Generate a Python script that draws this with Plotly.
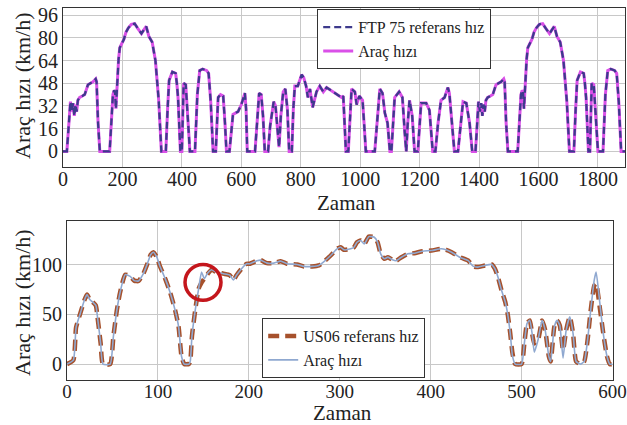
import plotly.graph_objects as go

# ---------------- FTP-75 (top) ----------------
ftp_time = [0, 13, 25, 30, 34, 38, 42, 46, 50, 56, 65, 73, 84, 95, 101, 110, 113, 118, 124,
            157, 163, 168, 172, 175, 178, 181, 187, 191, 197, 205, 212, 220, 230, 241, 252, 264,
            272, 280, 289, 300, 311, 322, 331, 346, 352, 357, 368, 379, 383, 387, 395, 400, 406,
            413, 418, 427, 444, 452, 460, 470, 483, 490, 497, 505, 514, 522, 530, 539, 545, 550,
            560, 566, 572, 589, 600, 612, 616, 620, 646, 653, 660, 667, 673, 679, 690, 697, 709,
            715, 721, 727, 733, 741, 748, 755, 761, 770, 775, 780, 790, 797, 803, 810, 818, 824,
            831, 840, 853, 864, 876, 887, 909, 926, 937, 943, 947, 952, 960, 965, 971, 982, 988,
            997, 1008, 1013, 1019, 1049, 1058, 1066, 1075, 1083, 1092, 1100, 1105, 1110, 1116,
            1131, 1142, 1150, 1155, 1160, 1166, 1175, 1183, 1194, 1200, 1205, 1222, 1233, 1244,
            1253, 1262, 1272, 1284, 1295, 1300, 1312, 1317, 1329, 1338, 1346, 1357, 1368, 1377,
            1388, 1398, 1403, 1407, 1411, 1415, 1419, 1423, 1429, 1438, 1446, 1457, 1468, 1474,
            1483, 1486, 1491, 1497, 1530, 1536, 1541, 1545, 1548, 1551, 1554, 1560, 1564, 1570,
            1578, 1585, 1593, 1603, 1614, 1625, 1637, 1645, 1653, 1662, 1673, 1684, 1695, 1704,
            1719, 1725, 1730, 1741, 1752, 1756, 1760, 1768, 1773, 1779, 1786, 1791, 1800, 1817,
            1825, 1833, 1843, 1856, 1863, 1870, 1878, 1891]
ftp_ref = [0, 0, 35, 28, 34, 25, 33, 28, 36, 38, 39, 40, 47, 48, 49, 51, 49, 20, 0,
           0, 25, 40, 43, 42, 30, 45, 65, 73, 76, 79, 84, 87, 89.5, 90, 86.5, 83,
           85.6, 88, 81, 77, 64, 36, 0, 0, 30, 50, 56, 55, 48, 38, 0, 0, 48,
           47, 30, 0, 0, 40, 57, 58, 57, 55, 35, 0, 0, 38, 40, 39, 20, 0,
           0, 16, 26, 28, 33, 41, 30, 0, 0, 20, 41, 40, 25, 0, 0, 18, 35,
           32, 15, 3, 25, 42, 44, 30, 0, 0, 30, 46, 46, 51, 54, 52, 46, 38,
           44, 31, 42, 46, 42, 45, 42, 39.5, 38, 39, 25, 0, 0, 25, 44, 42, 33,
           39, 36, 20, 0, 0, 25, 44, 41, 27, 20, 0, 0, 20, 38,
           42, 38, 13, 0, 20, 36, 25, 0, 0, 20, 34, 34, 29, 0,
           0, 20, 36, 38, 45, 41, 12, 0, 0, 20, 35, 34, 20, 0,
           0, 35, 28, 34, 25, 33, 28, 36, 38, 39, 40, 47, 48, 49,
           51, 49, 20, 0, 0, 25, 40, 43, 42, 30, 45, 65, 73, 76,
           79, 84, 87, 89.5, 90, 86.5, 83, 85.6, 88, 81, 77, 64, 36, 0,
           0, 30, 50, 56, 55, 48, 38, 0, 0, 48, 47, 30, 0, 0,
           40, 57, 58, 57, 55, 35, 0, 0]
ftp_vehicle = list(ftp_ref)

# ---------------- US06 (bottom) ----------------
us06_time = [0, 7, 10, 14.6, 19, 22, 25, 28, 31.7, 33.5, 37, 39.5, 47.5, 51, 54.8, 58.5, 64, 69.5,
             73.9, 78.6, 84, 88.4, 92, 95, 98.8, 102, 108, 113.6, 119, 122.7, 126, 129, 134, 135.6,
             137.4, 141, 144.8, 148, 151, 155, 159, 164, 172, 179, 183, 186.6, 192, 197.6, 201, 209,
             213, 220, 227.5, 235, 242, 253, 260.6, 269.7, 277, 282, 290, 297, 301, 304.6, 312,
             315.6, 319, 323, 327, 332, 338, 341.6, 345, 349, 353, 358, 362, 367, 375, 382, 391,
             401, 411.6, 417, 423, 432, 441, 447, 452, 459.6, 467, 470.6, 474, 478, 482, 484.6,
             487.5, 490, 493, 500, 503, 506, 509, 511.6, 514, 518, 522.6, 526, 530, 532, 536, 539,
             542, 545.6, 549, 553, 556.6, 560, 565, 569, 572.6, 576, 580, 582, 586, 590, 594, 597, 600]
us06_ref = [0, 4, 37, 51, 64, 70, 65, 62.6, 59, 47.6, 21, 0, 0, 27.6, 54, 72.6, 90, 88.3,
            84, 83.6, 91, 101, 110, 112.6, 107.6, 99, 86, 71.6, 54, 38, 7.6, 0, 0, 3,
            27.6, 54, 76, 82, 86, 91, 95, 92.6, 91, 89.6, 84.6, 89.6, 96, 101, 101, 104,
            104.6, 101.6, 101.6, 103.6, 101, 100.3, 98.3, 98.3, 99.3, 102.6, 109.3, 116, 117.6, 115, 116,
            117.6, 122.6, 124.3, 121, 128.3, 127.6, 122.6, 111, 106, 107.6, 105, 104, 107, 111, 111.6, 113.6,
            114.3, 116, 115, 112.6, 107.6, 104.3, 98.3, 97.6, 99.3, 100.3, 96, 87.6, 74, 62.6, 51,
            31, 11, 0, 0, 20.6, 41, 44, 30.6, 20.6, 24, 44, 34, 7.6, 2.6, 37.6, 44,
            39, 14, 34, 47.6, 31, 2.6, 0, 3, 24.3, 54, 79, 81, 57, 30, 7.6, 0, 0]
us06_vehicle = [0, 4, 37, 51, 64, 70, 65, 62.6, 59, 47.6, 21, 0, 0, 27.6, 54, 72.6, 90, 88.3,
                84, 83.6, 91, 101, 110, 112.6, 107.6, 99, 86, 71.6, 54, 38, 7.6, 0, 0, 3,
                27.6, 54, 76, 92.6, 86, 92, 95, 92.6, 91, 89.6, 84.6, 89.6, 96, 101, 101, 104,
                104.6, 101.6, 101.6, 103.6, 101, 100.3, 98.3, 98.3, 99.3, 102.6, 109.3, 116, 117.6, 115, 116,
                117.6, 122.6, 124.3, 121, 128.3, 127.6, 122.6, 111, 106, 107.6, 105, 104, 107, 111, 111.6, 113.6,
                114.3, 116, 115, 112.6, 107.6, 104.3, 98.3, 97.6, 99.3, 100.3, 96, 87.6, 74, 62.6, 51,
                31, 8, 0, 0, 20.6, 41, 44, 30.6, 12, 24, 44, 34, 7.6, 2.6, 37.6, 44,
                39, 6, 34, 47.6, 31, 2.6, 0, 3, 24.3, 54, 85, 92.6, 62, 30, 7.6, 0, 0]

# highlighted region (red circle) on the US06 chart
circle_t, circle_v, circle_rt, circle_rv = 149.6, 82.3, 19.8, 18

FONT = "Liberation Serif"

fig = go.Figure()

fig.add_trace(go.Scatter(x=ftp_time, y=ftp_vehicle, mode="lines", name="Araç hızı",
                         line=dict(color="#da50e8", width=3), legendrank=2,
                         xaxis="x", yaxis="y", legend="legend"))
fig.add_trace(go.Scatter(x=ftp_time, y=ftp_ref, mode="lines", name="FTP 75 referans hız",
                         line=dict(color="#3d3a8c", width=2.3, dash="7px,4px"), legendrank=1,
                         xaxis="x", yaxis="y", legend="legend"))

fig.add_trace(go.Scatter(x=us06_time, y=us06_ref, mode="lines", name="US06 referans hız",
                         line=dict(color="#a6512c", width=4.5, dash="11px,6px", shape="spline", smoothing=0.5),
                         xaxis="x2", yaxis="y2", legend="legend2"))
fig.add_trace(go.Scatter(x=us06_time, y=us06_vehicle, mode="lines", name="Araç hızı",
                         line=dict(color="#8fa8d0", width=1.6, shape="spline", smoothing=0.5),
                         xaxis="x2", yaxis="y2", legend="legend2"))

W, H = 627, 425
axis_common = dict(showgrid=True, gridcolor="#c8c8c8", gridwidth=1, showline=True, mirror=True,
                   linecolor="#333", linewidth=1.2, zeroline=False, ticks="", automargin=False)
tick_font = dict(family=FONT, size=20, color="#222")

fig.update_layout(
    width=W, height=H, margin=dict(l=0, r=0, t=0, b=0, autoexpand=False),
    paper_bgcolor="white", plot_bgcolor="white",
    xaxis=dict(domain=[63 / W, 625 / W], range=[0, 1891], tickvals=list(range(0, 1900, 200)),
               anchor="y", ticklabelstandoff=-6, tickfont=tick_font, **axis_common),
    yaxis=dict(domain=[1 - 167 / H, 1 - 8 / H], range=[-11, 101], tickvals=[0, 16, 32, 48, 64, 80, 96],
               anchor="x", tickfont=tick_font, **axis_common),
    xaxis2=dict(domain=[67 / W, 612.5 / W], range=[0, 600], tickvals=[0, 100, 200, 300, 400, 500, 600],
                anchor="y2", ticklabelstandoff=-6, tickfont=dict(family=FONT, size=19, color="#222"),
                **axis_common),
    yaxis2=dict(domain=[1 - 380 / H, 1 - 221 / H], range=[-16, 144], tickvals=[0, 50, 100],
                anchor="x2", tickfont=tick_font, **axis_common),
    legend=dict(x=317 / W, y=1 - 9 / H, xanchor="left", yanchor="top", bgcolor="white",
                bordercolor="#333", borderwidth=1.2, font=dict(family=FONT, size=16, color="#222"),
                tracegroupgap=0, itemwidth=30),
    legend2=dict(x=262 / W, y=1 - 318 / H, xanchor="left", yanchor="top", bgcolor="white",
                 bordercolor="#333", borderwidth=1.2, font=dict(family=FONT, size=16, color="#222"),
                 tracegroupgap=0, itemwidth=30),
    showlegend=True,
)

title_font = dict(family=FONT, size=21, color="#222")
fig.add_annotation(text="Zaman", x=346 / W, y=1 - 203 / H, xref="paper", yref="paper",
                   showarrow=False, font=title_font, xanchor="center", yanchor="middle")
fig.add_annotation(text="Zaman", x=342 / W, y=1 - 413 / H, xref="paper", yref="paper",
                   showarrow=False, font=title_font, xanchor="center", yanchor="middle")
fig.add_annotation(text="Araç hızı (km/h)", x=22 / W, y=1 - 86 / H, xref="paper", yref="paper",
                   showarrow=False, font=dict(family=FONT, size=22, color="#222"), textangle=-90,
                   xanchor="center", yanchor="middle")
fig.add_annotation(text="Araç hızı (km/h)", x=22 / W, y=1 - 303 / H, xref="paper", yref="paper",
                   showarrow=False, font=dict(family=FONT, size=22, color="#222"), textangle=-90,
                   xanchor="center", yanchor="middle")

fig.add_shape(type="circle", xref="x2", yref="y2",
              x0=circle_t - circle_rt, x1=circle_t + circle_rt,
              y0=circle_v - circle_rv, y1=circle_v + circle_rv,
              line=dict(color="#c4161c", width=3.5))

fig.write_html("out.html")
